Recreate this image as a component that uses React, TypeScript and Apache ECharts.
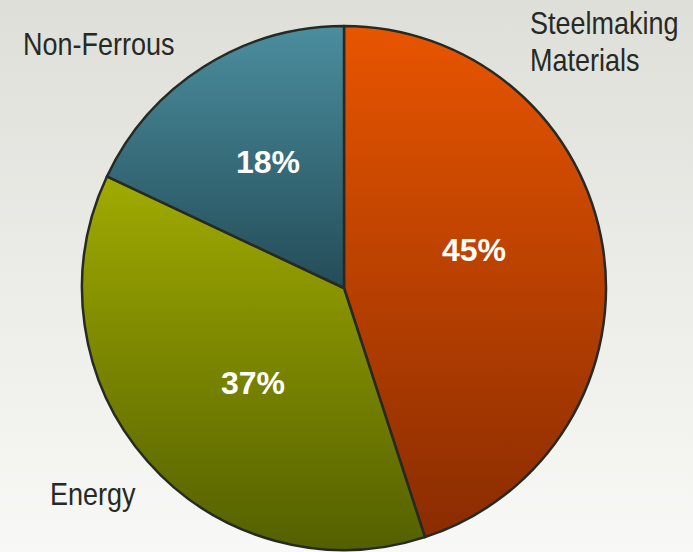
import React, { useEffect, useRef } from "react";
import * as echarts from "echarts";

const categories = ["Steelmaking\nMaterials", "Energy", "Non-Ferrous"];
const shares = [45, 37, 18];
const topColors = ["#e85500", "#a0ab00", "#4b8e9e"];
const bottomColors = ["#8a2c00", "#546000", "#244c58"];
// label anchor positions (layout only)
const pctPos = [
  [474, 250],
  [253, 383],
  [268, 162],
];
const namePos = [
  [530, 42],
  [50, 494],
  [23, 44],
];

export default function App() {
  const ref = useRef<HTMLDivElement>(null);
  useEffect(() => {
    const chart = echarts.init(ref.current!, undefined, { renderer: "svg" });
    const data = shares.map((v, i) => ({
      value: v,
      name: categories[i],
      itemStyle: {
        color: new echarts.graphic.LinearGradient(0, 0, 0, 1, [
          { offset: 0, color: topColors[i] },
          { offset: 1, color: bottomColors[i] },
        ]),
      },
    }));
    chart.setOption({
      animation: false,
      backgroundColor: new echarts.graphic.LinearGradient(0, 0, 0, 1, [
        { offset: 0, color: "#dfdfd9" },
        { offset: 1, color: "#f8f8f6" },
      ]),
      series: [
        {
          type: "pie",
          center: [344, 288],
          radius: [0, 262],
          startAngle: 90,
          clockwise: true,
          avoidLabelOverlap: false,
          data,
          itemStyle: { borderColor: "#262a24", borderWidth: 2.5 },
          label: {
            show: true,
            position: "inside",
            formatter: "{c}%",
            color: "#ffffff",
            fontFamily: "Liberation Sans, Arial, sans-serif",
            fontWeight: "bold",
            fontSize: 32,
          },
          labelLine: { show: false },
          labelLayout: (p: any) => ({
            x: pctPos[p.dataIndex][0],
            y: pctPos[p.dataIndex][1],
            align: "center",
            verticalAlign: "middle",
          }),
          emphasis: { disabled: true },
        },
      ],
      graphic: categories.map((c, i) => ({
        type: "text",
        x: namePos[i][0],
        y: namePos[i][1],
        scaleX: 1,
        scaleY: 1.14,
        style: {
          text: c,
          x: 0,
          y: 0,
          align: "left",
          verticalAlign: i === 0 ? "middle" : "middle",
          fontFamily: "Liberation Sans, Arial, sans-serif",
          fontSize: 27,
          lineHeight: 33,
          fill: "#262a24",
        },
      })),
    });
    return () => chart.dispose();
  }, []);
  return (
    <div
      ref={ref}
      style={{ position: "fixed", left: 0, top: 0, width: 693, height: 552 }}
    />
  );
}
